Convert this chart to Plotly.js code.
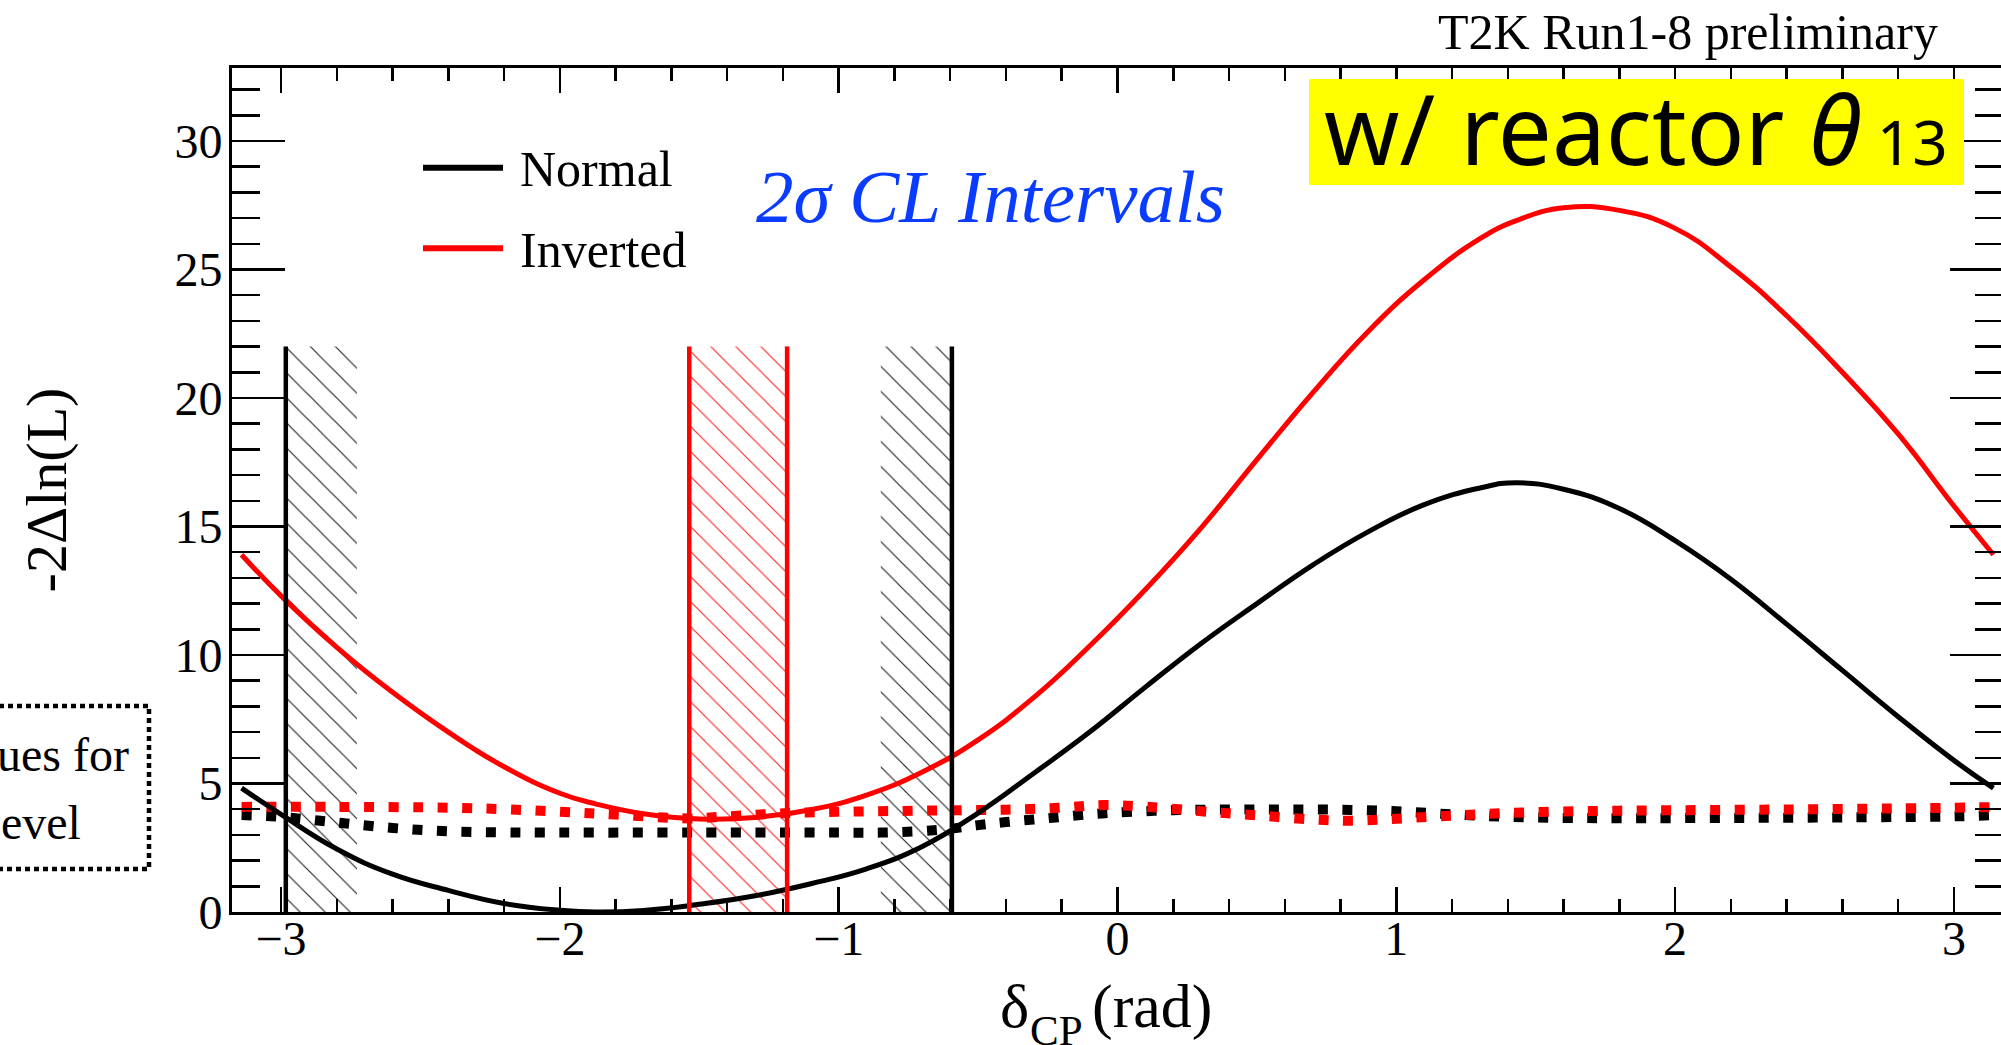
<!DOCTYPE html>
<html><head><meta charset="utf-8">
<script src="https://cdn.plot.ly/plotly-3.0.1.min.js"></script>
<style>html,body{margin:0;padding:0;overflow:hidden;background:#fff}#chart{width:2006px;height:1090px}</style>
</head><body><div id="chart"></div>
<script>
// ---------- data ----------
const seriesNames = ['Normal', 'Inverted'];
const deltaCP = [-3.1416, -3.0, -2.8, -2.6, -2.4, -2.2, -2.0, -1.87, -1.7, -1.5, -1.3, -1.1, -0.9, -0.7, -0.5, -0.3, -0.1, 0.1, 0.3, 0.5, 0.7, 0.9, 1.1, 1.3, 1.43, 1.6, 1.8, 2.0, 2.2, 2.4, 2.6, 2.8, 3.0, 3.1416];
const normalChi2 = [4.82, 3.80, 2.45, 1.47, 0.84, 0.33, 0.07, 0.0, 0.06, 0.30, 0.63, 1.10, 1.68, 2.55, 3.85, 5.40, 7.0, 8.75, 10.45, 12.0, 13.5, 14.8, 15.85, 16.5, 16.7, 16.45, 15.7, 14.45, 12.95, 11.2, 9.4, 7.6, 5.9, 4.82];
const invertedChi2 = [13.9, 12.3, 10.3, 8.55, 7.0, 5.65, 4.62, 4.2, 3.82, 3.62, 3.68, 3.98, 4.55, 5.45, 6.7, 8.35, 10.35, 12.55, 14.95, 17.6, 20.2, 22.6, 24.6, 26.2, 26.9, 27.4, 27.3, 26.6, 25.1, 23.2, 21.0, 18.6, 15.8, 13.9];

const critNormalX = [-3.1416, -3.0, -2.8, -2.6, -2.4, -2.2, -2.0, -1.5, -1.0, -0.85, -0.7, -0.6, -0.5, -0.4, -0.25, -0.1, 0.0, 0.2, 0.4, 0.6, 0.8, 1.0, 1.2, 1.4, 1.6, 1.8, 2.2, 2.6, 3.0, 3.1416];
const critNormal = [3.77, 3.70, 3.48, 3.27, 3.14, 3.10, 3.09, 3.09, 3.09, 3.09, 3.15, 3.24, 3.38, 3.50, 3.65, 3.80, 3.87, 3.96, 3.99, 3.99, 3.98, 3.92, 3.80, 3.70, 3.66, 3.65, 3.66, 3.68, 3.72, 3.77];
const critInvertedX = [-3.1416, -2.8, -2.4, -2.2, -2.0, -1.8, -1.536, -1.4, -1.2, -1.0, -0.8, -0.6, -0.4, -0.2, -0.05, 0.1, 0.3, 0.5, 0.7, 0.85, 1.0, 1.2, 1.4, 1.7, 2.0, 2.4, 2.8, 3.1416];
const critInverted = [4.09, 4.09, 4.06, 4.00, 3.90, 3.79, 3.64, 3.72, 3.84, 3.90, 3.93, 3.96, 3.98, 4.06, 4.16, 4.10, 3.92, 3.76, 3.60, 3.55, 3.63, 3.75, 3.85, 3.93, 3.96, 3.99, 4.03, 4.08];

const normalInterval = [-2.983, -0.594];
const invertedInterval = [-1.536, -1.185];
const intervalLineTop = 22;

const xTickVals = [-3, -2, -1, 0, 1, 2, 3];
const yTickVals = [0, 5, 10, 15, 20, 25, 30];
const xTitleParts = ['δ', 'CP', '(rad)'];
const yTitle = '-2Δln(L)';

// ---------- styling / layout constants ----------
const W = 2006, H = 1090;
const M = {l: 232, r: 3, t: 68, b: 178};
const PW = W - M.l - M.r, PH = H - M.t - M.b;
const px = v => (v - M.l) / PW;          // page px -> paper x
const py = v => (H - M.b - v) / PH;      // page px -> paper y
const SERIF = 'Liberation Serif, Times New Roman, serif';
const HATCH_W = 0.255;
const RED = '#ff0000';

function box(x0, x1, top) {
  return {x: [x0, x1, x1, x0, x0], y: [0, 0, top, top, 0]};
}
function hatchTrace(x0, x1, color) {
  const b = box(x0, x1, intervalLineTop);
  return {
    type: 'scatter', mode: 'none', x: b.x, y: b.y, fill: 'toself',
    fillcolor: 'rgba(0,0,0,0)',
    fillpattern: {shape: '\\', size: 17.7, solidity: 0.065, fgcolor: color, bgcolor: 'rgba(0,0,0,0)', fillmode: 'replace'},
    hoverinfo: 'skip', showlegend: false
  };
}
function vlines(xs, color) {
  const x = [], y = [];
  xs.forEach(v => { x.push(v, v, null); y.push(0, intervalLineTop, null); });
  return {type: 'scatter', mode: 'lines', x, y, line: {color, width: 4.5}, hoverinfo: 'skip', showlegend: false};
}

const traces = [
  hatchTrace(normalInterval[0], normalInterval[0] + HATCH_W, '#222222'),
  hatchTrace(normalInterval[1] - HATCH_W, normalInterval[1], '#222222'),
  hatchTrace(invertedInterval[0], invertedInterval[1], 'rgba(255,0,0,0.85)'),
  {type: 'scatter', mode: 'lines', x: critNormalX, y: critNormal, name: seriesNames[0] + ' critical',
   line: {color: '#000', width: 10, dash: '10px,14.5px', shape: 'spline', smoothing: 1}, showlegend: false},
  {type: 'scatter', mode: 'lines', x: critInvertedX, y: critInverted, name: seriesNames[1] + ' critical',
   line: {color: RED, width: 10, dash: '10px,14.5px', shape: 'spline', smoothing: 1}, showlegend: false},
  {type: 'scatter', mode: 'lines', x: deltaCP, y: normalChi2, name: seriesNames[0],
   line: {color: '#000', width: 5, shape: 'spline', smoothing: 1.3}, showlegend: false},
  {type: 'scatter', mode: 'lines', x: deltaCP, y: invertedChi2, name: seriesNames[1],
   line: {color: RED, width: 5, shape: 'spline', smoothing: 1.3}, showlegend: false},
  vlines(normalInterval, '#000'),
  vlines(invertedInterval, RED)
];

const axisCommon = {
  showline: true, linecolor: '#000', linewidth: 3, mirror: 'ticks',
  ticks: 'inside', tickcolor: '#000', tickwidth: 2.5,
  showgrid: false, zeroline: false, automargin: false,
  tickfont: {family: SERIF, size: 48, color: '#000'}
};

function txt(text, x, y, size, xanchor, extra) {
  return Object.assign({text, xref: 'paper', yref: 'paper', x: px(x), y: py(y), xanchor, yanchor: 'middle',
    showarrow: false, font: {family: SERIF, size, color: '#000'}}, extra || {});
}

const layout = {
  width: W, height: H, margin: M,
  paper_bgcolor: '#fff', plot_bgcolor: '#fff',
  font: {family: SERIF, color: '#000'},
  showlegend: false, hovermode: false,
  xaxis: Object.assign({}, axisCommon, {
    range: [-3.176, 3.176], tickmode: 'array', tickvals: xTickVals,
    ticklen: 25, ticklabelstandoff: -18,
    minor: {dtick: 0.2, tick0: 0, ticks: 'inside', ticklen: 13, tickwidth: 2.5, tickcolor: '#000'}
  }),
  yaxis: Object.assign({}, axisCommon, {
    range: [0, 32.84], tickmode: 'array', tickvals: yTickVals,
    ticklen: 53, ticklabelstandoff: -3,
    minor: {dtick: 1, tick0: 0, ticks: 'inside', ticklen: 28, tickwidth: 2.5, tickcolor: '#000'},
    title: {text: yTitle, font: {family: SERIF, size: 58, color: '#000'}, standoff: 90}
  }),
  shapes: [
    {type: 'rect', xref: 'paper', yref: 'paper', x0: px(1309), x1: px(1964), y0: py(185), y1: py(79),
     fillcolor: '#ffff00', line: {width: 0}, layer: 'above'},
    {type: 'rect', xref: 'paper', yref: 'paper', x0: px(-20), x1: px(149), y0: py(869), y1: py(706),
     fillcolor: 'rgba(0,0,0,0)', line: {color: '#000', width: 4.5, dash: '5px,4px'}, layer: 'above'},
    {type: 'line', xref: 'paper', yref: 'paper', x0: px(423), x1: px(503), y0: py(167.7), y1: py(167.7),
     line: {color: '#000', width: 6}},
    {type: 'line', xref: 'paper', yref: 'paper', x0: px(423), x1: px(503), y0: py(248.3), y1: py(248.3),
     line: {color: RED, width: 6}}
  ],
  annotations: [
    // x-axis title, built from parts so the subscript sits where the reference has it
    txt(xTitleParts[0], 998, 1006, 62, 'left'),
    txt(xTitleParts[1], 1028, 1030, 43, 'left'),
    txt(xTitleParts[2], 1090, 1006, 62, 'left'),
    txt('T2K Run1-8 preliminary', 1940, 32, 50, 'right'),
    txt(seriesNames[0], 518, 168.8, 50, 'left'),
    txt(seriesNames[1], 518, 249.8, 50, 'left'),
    txt('2σ CL Intervals', 990, 196, 75, 'center', {font: {family: SERIF, size: 75, color: '#0a3cff', style: 'italic'}}),
    txt('w/ reactor <i>θ</i><span style="font-size:62px"> 13</span>', 1636, 128, 96, 'center',
        {font: {family: 'Noto Sans, DejaVu Sans, sans-serif', size: 96, color: '#000'}}),
    txt('ues for', 131, 754, 48, 'right'),
    txt('evel', 83, 822, 48, 'right')
  ]
};

Plotly.newPlot('chart', traces, layout, {staticPlot: true, displayModeBar: false});
</script></body></html>
